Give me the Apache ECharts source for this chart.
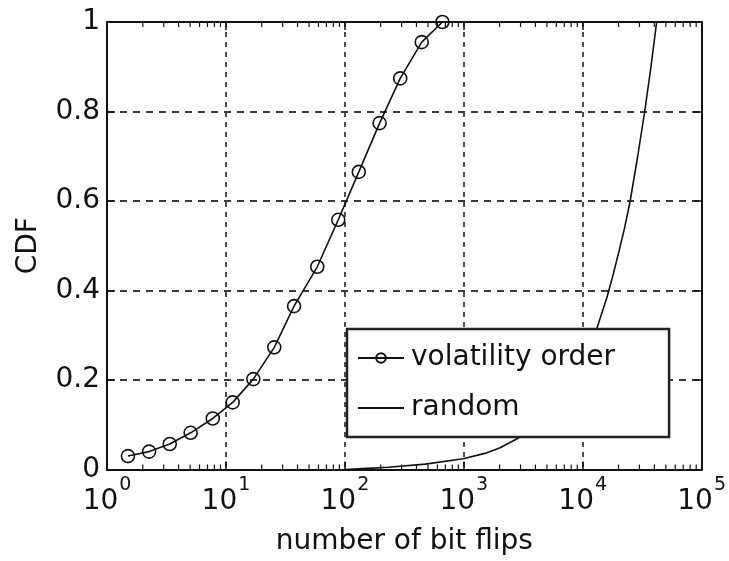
<!DOCTYPE html>
<html>
<head>
<meta charset="utf-8">
<script src="https://cdn.jsdelivr.net/npm/echarts@6/dist/echarts.min.js"></script>
<style>
  html, body { margin: 0; padding: 0; background: #fff; }
  #chart { width: 729px; height: 561px; }
</style>
</head>
<body>
<div id="chart"></div>
<script>
// CDF of the number of bit flips needed, two orderings
const volatilityFlips = [1.5, 2.26, 3.37, 5.05, 7.75, 11.4, 17, 25.5, 37.4, 58.6, 88, 131, 196, 292, 443, 661];
const volatilityCdf   = [0.030, 0.040, 0.057, 0.082, 0.114, 0.150, 0.202, 0.273, 0.365, 0.453, 0.558, 0.665, 0.774, 0.874, 0.955, 1.0];

const randomFlips = [100, 140, 233, 474, 990, 1500, 2000, 2860, 4000, 5500, 7500, 10000, 13180, 16000, 18000, 20280, 22500, 25060, 29000, 33200, 37500, 41850];
const randomCdf   = [0, 0.002, 0.005, 0.012, 0.024, 0.036, 0.048, 0.070, 0.096, 0.130, 0.180, 0.240, 0.316, 0.385, 0.435, 0.490, 0.540, 0.600, 0.700, 0.800, 0.900, 1.0];

const xTickExponents = [0, 1, 2, 3, 4, 5];
const yTicks = [0, 0.2, 0.4, 0.6, 0.8, 1];
const minorTickMultipliers = [2, 3, 4, 5, 6, 7, 8, 9];

const FONT = 'DejaVu Sans';

// minor tick positions for every decade of the log axis
const minorTickValues = [];
for (let i = 0; i < xTickExponents.length - 1; i++) {
  for (const m of minorTickMultipliers) {
    minorTickValues.push(m * Math.pow(10, xTickExponents[i]));
  }
}

const chart = echarts.init(document.getElementById('chart'), null, { renderer: 'canvas' });

const frameLine = { show: true, onZero: false, lineStyle: { color: '#111', width: 2 } };
const gridDash = (dash) => ({ show: true, lineStyle: { color: '#3a3a3a', width: 1.8, type: dash } });

const option = {
  backgroundColor: '#fff',
  animation: false,
  grid: { left: 107, right: 24, top: 22, bottom: 91.5, containLabel: false },
  xAxis: [
    {
      type: 'log', logBase: 10,
      min: Math.pow(10, xTickExponents[0]),
      max: Math.pow(10, xTickExponents[xTickExponents.length - 1]),
      position: 'bottom',
      name: 'number of bit flips',
      nameLocation: 'middle',
      nameGap: 58,
      nameTextStyle: { fontFamily: FONT, fontSize: 28, color: '#111' },
      axisLine: frameLine,
      axisTick: { show: true, inside: true, length: 8, lineStyle: { color: '#111', width: 1.5 } },
      splitLine: gridDash([5, 5]),
      axisLabel: {
        margin: 6,
        formatter: (v) => '{b|10}{s|' + Math.round(Math.log10(v)) + '}',
        rich: {
          b: { fontFamily: FONT, fontSize: 28, color: '#111', lineHeight: 40, verticalAlign: 'bottom' },
          s: { fontFamily: FONT, fontSize: 19, color: '#111', lineHeight: 40, verticalAlign: 'top', padding: [0, 0, 0, 1] }
        }
      }
    },
    {
      type: 'log', logBase: 10,
      min: Math.pow(10, xTickExponents[0]),
      max: Math.pow(10, xTickExponents[xTickExponents.length - 1]),
      position: 'top',
      axisLine: frameLine,
      axisTick: { show: true, inside: true, length: 8, lineStyle: { color: '#111', width: 1.5 } },
      axisLabel: { show: false },
      splitLine: { show: false }
    }
  ],
  yAxis: [
    {
      type: 'value', min: yTicks[0], max: yTicks[yTicks.length - 1], interval: 0.2,
      position: 'left',
      name: 'CDF',
      nameLocation: 'middle',
      nameGap: 64,
      nameRotate: 90,
      nameTextStyle: { fontFamily: FONT, fontSize: 28, color: '#111' },
      axisLine: frameLine,
      axisTick: { show: true, inside: true, length: 8, lineStyle: { color: '#111', width: 1.5 } },
      splitLine: gridDash([7, 6]),
      axisLabel: {
        margin: 7,
        fontFamily: FONT, fontSize: 28, color: '#111',
        formatter: (v) => String(Math.round(v * 10) / 10)
      }
    },
    {
      type: 'value', min: yTicks[0], max: yTicks[yTicks.length - 1], interval: 0.2,
      position: 'right',
      axisLine: frameLine,
      axisTick: { show: true, inside: true, length: 8, lineStyle: { color: '#111', width: 1.5 } },
      axisLabel: { show: false },
      splitLine: { show: false }
    }
  ],
  legend: {
    data: [
      { name: 'volatility order' },
      { name: 'random', itemStyle: { opacity: 0 } }
    ],
    orient: 'vertical',
    left: 347, top: 329,
    padding: [15, 54, 15, 10],
    itemGap: 22,
    itemWidth: 46,
    itemHeight: 12,
    backgroundColor: '#fff',
    borderColor: '#222',
    borderWidth: 2.5,
    borderRadius: 0,
    textStyle: { fontFamily: FONT, fontSize: 28, color: '#111', padding: [0, 0, 0, 2] }
  },
  series: [
    {
      name: 'volatility order',
      type: 'line',
      data: volatilityFlips.map((x, i) => [x, volatilityCdf[i]]),
      symbol: 'circle',
      symbolSize: 13,
      lineStyle: { color: '#111', width: 1.6 },
      itemStyle: { color: 'rgba(0,0,0,0)', borderColor: '#111', borderWidth: 1.6 },
      z: 3
    },
    {
      name: 'random',
      type: 'line',
      data: randomFlips.map((x, i) => [x, randomCdf[i]]),
      showSymbol: false,
      symbol: 'none',
      lineStyle: { color: '#111', width: 1.6 },
      itemStyle: { color: '#111' },
      z: 3
    },
    {
      // minor ticks on the bottom and top edges of the log axis
      type: 'custom',
      silent: true,
      data: minorTickValues.map(v => [v]),
      renderItem: (params, api) => {
        const v = api.value(0);
        const bottom = api.coord([v, 0]);
        const top = api.coord([v, 1]);
        const style = { stroke: '#111', lineWidth: 1.2 };
        return {
          type: 'group',
          children: [
            { type: 'line', shape: { x1: bottom[0], y1: bottom[1], x2: bottom[0], y2: bottom[1] - 5 }, style },
            { type: 'line', shape: { x1: top[0], y1: top[1], x2: top[0], y2: top[1] + 5 }, style }
          ]
        };
      },
      z: 4
    }
  ]
};

chart.setOption(option);
</script>
</body>
</html>
